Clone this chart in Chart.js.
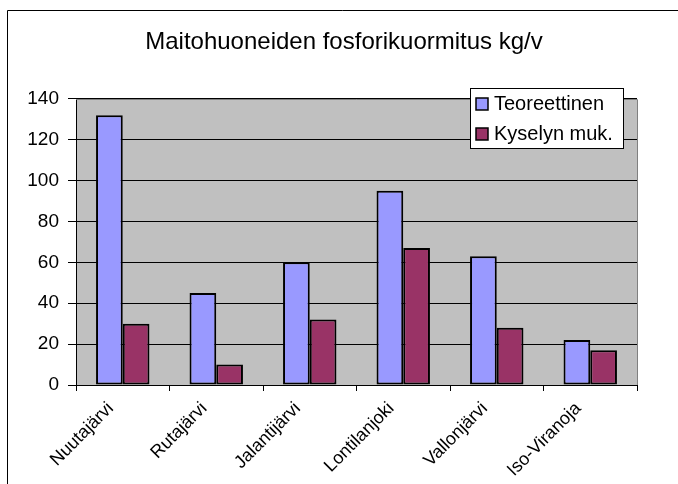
<!DOCTYPE html>
<html>
<head>
<meta charset="utf-8">
<script src="https://cdn.jsdelivr.net/npm/chart.js@4/dist/chart.umd.min.js"></script>
<style>
html,body{margin:0;padding:0;background:#fff;}
#wrap{width:678px;height:484px;position:relative;}
</style>
</head>
<body>
<div id="wrap"><canvas id="c" width="678" height="484"></canvas></div>
<script>
const categories = ["Nuutajärvi", "Rutajärvi", "Jalantijärvi", "Lontilanjoki", "Vallonjärvi", "Iso-Viranoja"];
const teoreettinen = [132, 45, 60, 95, 63, 22];
const kyselynMuk = [30, 10, 32, 67, 28, 17];
const seriesNames = ["Teoreettinen", "Kyselyn muk."];
const titleText = "Maitohuoneiden fosforikuormitus kg/v";
const yTicks = [0, 20, 40, 60, 80, 100, 120, 140];

const FONT = "'Liberation Sans', Arial, sans-serif";

const decor = {
  id: 'decor',
  beforeDraw(chart) {
    const {ctx, chartArea: a} = chart;
    ctx.save();
    ctx.fillStyle = '#C0C0C0';
    ctx.fillRect(a.left, a.top, a.right - a.left, a.bottom - a.top);
    ctx.restore();
  },
  afterDraw(chart) {
    const {ctx, chartArea: a} = chart;
    ctx.save();
    ctx.strokeStyle = '#808080';
    ctx.lineWidth = 1;
    ctx.beginPath();
    ctx.moveTo(a.left, Math.round(a.top) + 0.5);
    ctx.lineTo(Math.round(a.right) + 0.5, Math.round(a.top) + 0.5);
    ctx.lineTo(Math.round(a.right) + 0.5, a.bottom);
    ctx.stroke();
    ctx.strokeStyle = '#000';
    ctx.beginPath();
    ctx.moveTo(7.5, 484);
    ctx.lineTo(7.5, 10.5);
    ctx.lineTo(678, 10.5);
    ctx.stroke();
    const lx = 470.5, ly = 88.5, lw = 153, lh = 60;
    ctx.fillStyle = '#fff';
    ctx.fillRect(lx, ly, lw, lh);
    ctx.strokeStyle = '#000';
    ctx.strokeRect(lx, ly, lw, lh);
    ctx.font = '20px ' + FONT;
    ctx.textBaseline = 'middle';
    ctx.textAlign = 'left';
    chart.data.datasets.forEach((ds, i) => {
      const cy = 104 + i * 30;
      ctx.fillStyle = ds.backgroundColor;
      ctx.fillRect(476, cy - 6, 12, 12);
      ctx.lineWidth = 1.5;
      ctx.strokeStyle = '#000';
      ctx.strokeRect(476, cy - 6, 12, 12);
      ctx.fillStyle = '#000';
      ctx.fillText(ds.label, 494, cy);
    });
    ctx.restore();
  }
};

new Chart(document.getElementById('c'), {
  type: 'bar',
  data: {
    labels: categories,
    datasets: [
      { label: seriesNames[0], data: teoreettinen, backgroundColor: '#9999FF', borderColor: '#000', borderWidth: 2, borderSkipped: false, yAxisID: 'y' },
      { label: seriesNames[1], data: kyselynMuk, backgroundColor: '#993366', borderColor: '#000', borderWidth: 2, borderSkipped: false, yAxisID: 'y' }
    ]
  },
  options: {
    responsive: false,
    animation: false,
    devicePixelRatio: 1,
    datasets: { bar: { categoryPercentage: 2 / 3.5, barPercentage: 1 } },
    layout: { padding: { left: 10, right: 0, top: 0, bottom: 0 } },
    plugins: {
      legend: { display: false },
      tooltip: { enabled: false },
      title: {
        display: true,
        text: titleText,
        color: '#000',
        font: { family: FONT, size: 24, weight: 'normal' },
        padding: { top: 28, bottom: 42 }
      }
    },
    scales: {
      x: {
        offset: true,
        grid: { offset: true, drawOnChartArea: false, drawTicks: true, tickLength: 6, color: '#000' },
        border: { color: '#000', width: 1 },
        ticks: { color: '#000', font: { family: FONT, size: 18 }, minRotation: 45, maxRotation: 45, autoSkip: false, padding: 7, labelOffset: -12 },
        afterFit(s) { s.height = 99; }
      },
      y: {
        min: 0, max: 140,
        afterBuildTicks(s) { s.ticks = yTicks.map(v => ({ value: v })); },
        grid: { color: '#000', tickColor: '#000', tickLength: 8, drawTicks: true },
        border: { color: '#000', width: 1 },
        ticks: { color: '#000', font: { family: FONT, size: 19 }, padding: 9 },
        afterFit(s) { s.width = 66; }
      },
      yRight: {
        position: 'right',
        display: true,
        min: 0, max: 140,
        grid: { display: false, drawTicks: false },
        border: { display: false },
        ticks: { display: false },
        afterFit(s) { s.width = 41; }
      }
    }
  },
  plugins: [decor]
});
</script>
</body>
</html>
